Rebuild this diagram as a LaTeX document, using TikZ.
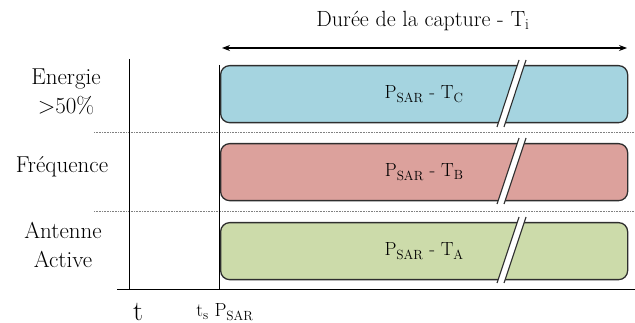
\documentclass[tikz,border=0pt]{standalone}
\usepackage{fontspec}
\usetikzlibrary{arrows.meta}
\definecolor{cblue}{HTML}{A5D4E0}
\definecolor{cred}{HTML}{DCA19C}
\definecolor{cgreen}{HTML}{CCDBAA}
\definecolor{cedge}{HTML}{2E2E2E}
\tikzset{
  box/.style={draw=cedge, line width=1.3pt, rounded corners=9pt, anchor=north west,
    minimum width=407pt, minimum height=57pt, inner sep=0pt,
    font=\fontsize{19}{23}\selectfont},
  lab/.style={font=\fontsize{23}{29}\selectfont, align=center, inner sep=0pt},
  axis/.style={line width=0.9pt, black},
  sep/.style={densely dotted, line width=0.6pt, gray},
  brk/.style={line width=1.1pt, cedge},
}
\begin{document}
\begin{tikzpicture}[x=1pt, y=-1pt]
\useasboundingbox (0,0) rectangle (635,323);
% separators
\draw[sep] (94,132) -- (635,132);
\draw[sep] (94,211) -- (635,211);
% axes
\coordinate (ytop) at (129,59);
\coordinate (ybot) at (129,290);
\coordinate (xl) at (117,289);
\coordinate (xr) at (635,289);
\coordinate (ststop) at (219,65);
\coordinate (stsbot) at (219,289);
\draw[axis] (ytop) -- (ybot);
\draw[axis] (xl) -- (xr);
\draw[axis] (ststop) -- (stsbot);
% boxes
\node[box, fill=cblue] (bC) at (220,65) {P\textsubscript{SAR} - T\textsubscript{C}};
\node[box, fill=cred] (bB) at (220,143) {P\textsubscript{SAR} - T\textsubscript{B}};
\node[box, fill=cgreen] (bA) at (220,222) {P\textsubscript{SAR} - T\textsubscript{A}};
% break marks
\foreach \yt/\yb in {60/127, 138/204, 217/283}{
  \fill[white] (519,\yt) -- (526,\yt) -- (504,\yb) -- (497,\yb) -- cycle;
  \draw[brk] (519,\yt) -- (497,\yb);
  \draw[brk] (526,\yt) -- (504,\yb);
}
% duration arrow
\coordinate (al) at (222,48);
\coordinate (ar) at (627,48);
\draw[line width=1.1pt, {Stealth[length=8pt,width=6pt]}-{Stealth[length=8pt,width=6pt]}] (al) -- (ar);
\node[lab, font=\fontsize{22}{26}\selectfont] (title) at (423,21) {Durée de la capture - T\textsubscript{i}};
% left labels
\node[lab] (energie) at (66,92) {Energie\\>50\%};
\node[lab] (freq) at (62,167) {Fréquence};
\node[lab] (ant) at (63,245) {Antenne\\Active};
% bottom labels
\node[lab, font=\fontsize{28}{32}\selectfont] (t) at (138,312) {t};
\node[lab, font=\fontsize{19}{23}\selectfont] (ts) at (225,312) {t\textsubscript{s} P\textsubscript{SAR}};
\end{tikzpicture}
\end{document}
